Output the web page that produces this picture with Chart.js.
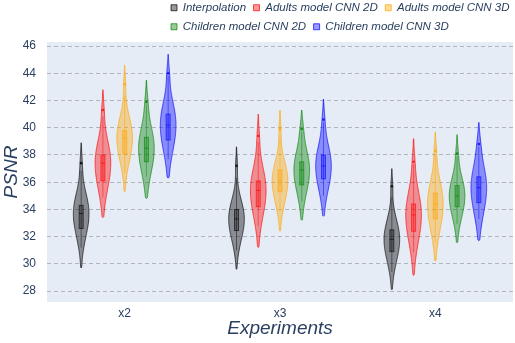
<!DOCTYPE html>
<html>
<head>
<meta charset="utf-8">
<script src="https://cdn.jsdelivr.net/npm/chart.js@4.4.1/dist/chart.umd.min.js"></script>
<style>
  html, body { margin: 0; padding: 0; background: #fff; }
  #wrap { width: 515px; height: 343px; }
</style>
</head>
<body>
<div id="wrap"><canvas id="chart" width="515" height="343"></canvas></div>
<script>
const categories = ["x2", "x3", "x4"];
const seriesNames = [
  "Interpolation",
  "Adults model CNN 2D",
  "Adults model CNN 3D",
  "Children model CNN 2D",
  "Children model CNN 3D",
];
const yTicks = [28, 30, 32, 34, 36, 38, 40, 42, 44, 46];

// one row per experiment: [bottom tip, q1, median, q3, outlier, top tip]
const interpolation = [
  [29.7, 32.6, 33.7, 34.3, 37.4, 38.9],
  [29.6, 32.45, 33.3, 34.0, 37.2, 38.6],
  [28.1, 30.9, 31.8, 32.5, 35.7, 37.0],
];
const adults2d = [
  [33.4, 36.1, 37.4, 38.0, 41.3, 42.8],
  [31.2, 34.2, 35.4, 36.1, 39.4, 41.0],
  [29.15, 32.4, 33.6, 34.4, 37.5, 39.2],
];
const adults3d = [
  [35.3, 38.1, 39.25, 39.8, 43.2, 44.6],
  [32.4, 35.3, 36.1, 36.9, 39.9, 41.3],
  [30.2, 33.3, 34.4, 35.2, 38.3, 39.7],
];
const children2d = [
  [34.8, 37.5, 38.5, 39.3, 41.9, 43.5],
  [33.2, 35.8, 36.9, 37.5, 39.9, 41.3],
  [31.55, 34.2, 35.0, 35.75, 38.1, 39.5],
];
const children3d = [
  [36.3, 39.1, 40.2, 41.0, 44.0, 45.4],
  [33.5, 36.25, 37.2, 38.0, 40.6, 42.1],
  [31.7, 34.5, 35.6, 36.4, 38.8, 40.4],
];

const seriesStats = [interpolation, adults2d, adults3d, children2d, children3d];
const seriesColors = ["0, 0, 0", "255, 0, 0", "255, 165, 0", "0, 128, 0", "0, 0, 255"];

const textColor = "#2a3f5f";
Chart.defaults.font.family = "'Liberation Sans', Arial, sans-serif";
Chart.defaults.color = textColor;

// bars are only used for positions; the violins are drawn on top of them
const violinPlugin = {
  id: "violins",
  beforeDraw(chart) {
    const { ctx, chartArea: a } = chart;
    ctx.save();
    ctx.fillStyle = "#E5ECF6";
    ctx.fillRect(a.left, a.top, a.right - a.left, a.bottom - a.top);
    ctx.restore();
    // legend block sits top right with rows left aligned
    const lg = chart.legend;
    lg.left = 163.5;
    lg.right = 530;
    lg.top = -5.5;
  },
  beforeDatasetDraw() {
    return false;
  },
  afterDatasetsDraw(chart) {
    const ctx = chart.ctx;
    const y = chart.scales.y;
    chart.data.datasets.forEach((ds, i) => {
      const rgb = seriesColors[i];
      chart.getDatasetMeta(i).data.forEach((bar, j) => {
        const [lo, q1, med, q3, dot, hi] = seriesStats[i][j];
        const cx = bar.x;
        const iqr = q3 - q1;
        const bw = (hi - dot) / 2;
        const dens = (v) =>
          Math.exp(-0.5 * ((v - med) / (v < med ? iqr : iqr * 0.9)) ** 2) +
          0.1 * Math.exp(-0.5 * ((v - dot) / bw) ** 2);
        const n = 120;
        const maxHalf = bar.width * 0.36;
        const pts = [];
        let top = 0;
        for (let k = 0; k <= n; k++) {
          const v = lo + ((hi - lo) * k) / n;
          const d = k === 0 || k === n ? 0 : dens(v);
          top = Math.max(top, d);
          pts.push([y.getPixelForValue(v), d]);
        }

        ctx.save();
        ctx.beginPath();
        pts.forEach(([py, d], k) => {
          const px = cx + (d / top) * maxHalf;
          if (k === 0) ctx.moveTo(px, py);
          else ctx.lineTo(px, py);
        });
        for (let k = pts.length - 1; k >= 0; k--) {
          ctx.lineTo(cx - (pts[k][1] / top) * maxHalf, pts[k][0]);
        }
        ctx.closePath();
        ctx.fillStyle = `rgba(${rgb}, 0.4)`;
        ctx.fill();
        ctx.lineWidth = 1;
        ctx.strokeStyle = `rgba(${rgb}, 0.65)`;
        ctx.stroke();

        // whiskers
        const lw = Math.max(q1 - 1.5 * iqr, lo + 2 * bw);
        const uw = Math.min(q3 + 1.5 * iqr, dot - 0.2);
        ctx.beginPath();
        ctx.moveTo(cx, y.getPixelForValue(lw));
        ctx.lineTo(cx, y.getPixelForValue(uw));
        ctx.strokeStyle = `rgba(${rgb}, 0.45)`;
        ctx.stroke();

        // inner box + median
        const yq3 = y.getPixelForValue(q3);
        const yq1 = y.getPixelForValue(q1);
        ctx.fillStyle = `rgba(${rgb}, 0.3)`;
        ctx.fillRect(cx - 2, yq3, 4, yq1 - yq3);
        ctx.strokeStyle = `rgba(${rgb}, 0.6)`;
        ctx.strokeRect(cx - 2, yq3, 4, yq1 - yq3);
        const ym = y.getPixelForValue(med);
        ctx.beginPath();
        ctx.moveTo(cx - 2, ym);
        ctx.lineTo(cx + 2, ym);
        ctx.stroke();

        // outlier
        ctx.beginPath();
        ctx.arc(cx, y.getPixelForValue(dot), 1.3, 0, Math.PI * 2);
        ctx.fillStyle = `rgba(${rgb}, 0.8)`;
        ctx.fill();
        ctx.restore();
      });
    });
  },
};

new Chart(document.getElementById("chart"), {
  type: "bar",
  data: {
    labels: categories,
    datasets: seriesNames.map((name, i) => ({
      label: name,
      data: seriesStats[i].map((s) => [s[0], s[5]]),
      backgroundColor: `rgba(${seriesColors[i]}, 0.4)`,
      borderColor: `rgba(${seriesColors[i]}, 0.7)`,
      borderWidth: 1,
      categoryPercentage: 0.7,
      barPercentage: 1,
    })),
  },
  options: {
    responsive: false,
    animation: false,
    events: [],
    layout: { padding: { right: 2 } },
    scales: {
      x: {
        grid: { display: false, drawTicks: false },
        border: { display: false },
        ticks: { font: { size: 12 }, color: textColor, padding: 4 },
        title: {
          display: true,
          text: "Experiments",
          color: textColor,
          font: { size: 19, style: "italic" },
          padding: { top: 0, bottom: 3 },
        },
        afterFit: (scale) => {
          scale.height = 41;
        },
      },
      y: {
        min: 27.2,
        max: 46.3,
        afterBuildTicks: (scale) => {
          scale.ticks = yTicks.map((v) => ({ value: v }));
        },
        grid: { color: "#b0b5bd", lineWidth: 1, drawTicks: false },
        border: { display: false, dash: [4, 3] },
        ticks: { font: { size: 12 }, color: textColor, padding: 11 },
        title: {
          display: true,
          text: "PSNR",
          color: textColor,
          font: { size: 19, style: "italic" },
          padding: { top: 0, bottom: 0 },
        },
        afterFit: (scale) => {
          scale.width = 47;
        },
      },
    },
    plugins: {
      tooltip: { enabled: false },
      legend: {
        position: "top",
        align: "start",
        maxHeight: 42,
        labels: {
          boxWidth: 6,
          boxHeight: 6,
          padding: 7.5,
          color: textColor,
          font: { size: 11.5, style: "italic" },
        },
      },
    },
  },
  plugins: [violinPlugin],
});
</script>
</body>
</html>
